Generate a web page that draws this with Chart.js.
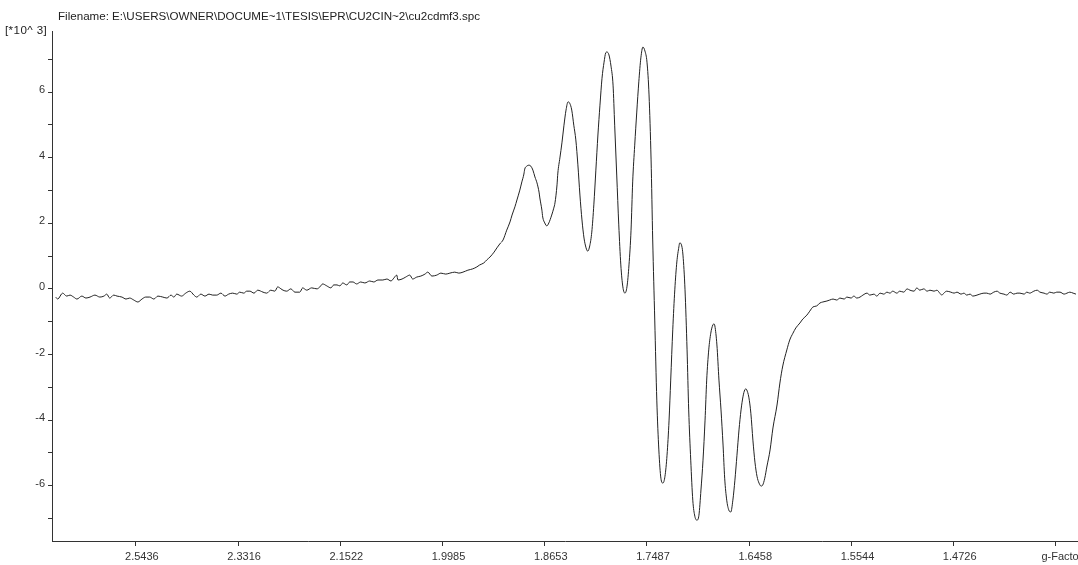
<!DOCTYPE html>
<html lang="en">
<head>
    <meta charset="UTF-8">
    <title>cu2cdmf3.spc</title>
    <script src="https://cdn.jsdelivr.net/npm/chart.js"></script>
    <style>
        body { margin: 0; background: #fff; }
        #wrap { position: relative; width: 1078px; height: 565px; overflow: hidden; }
        .txt { position: absolute; font: 11.6px "Liberation Sans", Arial, sans-serif; color: #222; white-space: nowrap; }
    </style>
</head>

<body>
    <div id="wrap">
        <canvas id="eprChart"></canvas>
        <div class="txt" style="left:58px; top:9px;">Filename: E:\USERS\OWNER\DOCUME~1\TESIS\EPR\CU2CIN~2\cu2cdmf3.spc</div>
        <div class="txt" style="left:5px; top:23px; letter-spacing:0.4px;">[*10^ 3]</div>
    </div>

    <script>
        const field = [
            2554, 2559, 2571, 2581, 2589, 2598, 2606, 2618, 2628, 2638, 2650, 2662, 2672, 2679, 2686, 2696,
            2704, 2716, 2726, 2735, 2745, 2755, 2765, 2774, 2784, 2794, 2804, 2816, 2826, 2836, 2843, 2850,
            2862, 2872, 2882, 2892, 2899, 2909, 2919, 2929, 2938, 2948, 2958, 2968, 2977, 2987, 2997, 3004,
            3014, 3021, 3029, 3039, 3048, 3061, 3070, 3080, 3090, 3097, 3105, 3110, 3119, 3129, 3139, 3151,
            3158, 3168, 3180, 3193, 3200, 3207, 3217, 3227, 3234, 3242, 3249, 3256, 3266, 3273, 3281, 3290,
            3300, 3310, 3322, 3332, 3342, 3354, 3364, 3374, 3381, 3388, 3391, 3401, 3410, 3420, 3427, 3437,
            3447, 3457, 3464, 3474, 3486, 3496, 3508, 3518, 3530, 3540, 3550, 3562, 3574, 3584, 3591, 3601,
            3608, 3616, 3626, 3633, 3640, 3648, 3657, 3665, 3670, 3677, 3682, 3689, 3694, 3699, 3701, 3706,
            3711, 3716, 3721, 3726, 3731, 3736, 3738, 3743, 3745, 3750, 3755, 3760, 3767, 3772, 3775, 3780,
            3782, 3787, 3792, 3797, 3802, 3807, 3811, 3816, 3821, 3826, 3831, 3836, 3841, 3846, 3851, 3855,
            3860, 3865, 3870, 3875, 3880, 3885, 3890, 3895, 3899, 3902, 3907, 3912, 3917, 3921, 3926, 3931,
            3936, 3941, 3946, 3951, 3956, 3961, 3965, 3970, 3975, 3980, 3985, 3990, 3995, 4000, 4005, 4010,
            4014, 4019, 4024, 4029, 4034, 4039, 4044, 4049, 4054, 4058, 4063, 4068, 4073, 4078, 4080, 4085,
            4088, 4093, 4098, 4102, 4107, 4112, 4117, 4122, 4127, 4132, 4137, 4142, 4146, 4151, 4156, 4161,
            4164, 4166, 4171, 4176, 4181, 4186, 4190, 4195, 4200, 4205, 4210, 4215, 4220, 4225, 4230, 4235,
            4239, 4242, 4244, 4249, 4254, 4259, 4264, 4269, 4274, 4279, 4283, 4288, 4293, 4301, 4308, 4318,
            4325, 4332, 4342, 4349, 4357, 4364, 4374, 4381, 4391, 4398, 4406, 4415, 4423, 4430, 4440, 4447,
            4455, 4464, 4472, 4482, 4489, 4499, 4506, 4513, 4521, 4528, 4538, 4545, 4555, 4562, 4570, 4579,
            4587, 4594, 4601, 4611, 4618, 4628, 4636, 4643, 4653, 4660, 4667, 4677, 4685, 4692, 4702, 4709,
            4716, 4721, 4726, 4733, 4743, 4751, 4758, 4768, 4775, 4782, 4790, 4797, 4807, 4814, 4824, 4831,
            4839, 4848, 4856, 4863, 4873, 4880, 4888, 4897, 4905, 4912, 4922, 4929, 4936, 4946, 4954, 4961,
            4971, 4978, 4985, 4995, 5002, 5010, 5020, 5027, 5034, 5042, 5049
        ];
        const signal = [
            -0.25, -0.31, -0.13, -0.22, -0.19, -0.25, -0.31, -0.22, -0.28, -0.25, -0.19, -0.25, -0.22, -0.16, -0.28, -0.19,
            -0.22, -0.25, -0.31, -0.28, -0.34, -0.40, -0.31, -0.25, -0.25, -0.31, -0.22, -0.25, -0.28, -0.19, -0.25, -0.16,
            -0.22, -0.13, -0.07, -0.19, -0.25, -0.16, -0.22, -0.16, -0.19, -0.19, -0.13, -0.22, -0.16, -0.13, -0.16, -0.10,
            -0.13, -0.07, -0.07, -0.13, -0.04, -0.10, -0.13, -0.04, -0.07, 0.06, 0.00, -0.04, -0.07, 0.00, -0.10, -0.10,
            0.03, -0.04, 0.03, 0.00, 0.06, 0.15, 0.09, 0.03, 0.12, 0.12, 0.09, 0.18, 0.12, 0.21, 0.21, 0.15,
            0.21, 0.18, 0.24, 0.21, 0.27, 0.27, 0.30, 0.24, 0.33, 0.42, 0.27, 0.30, 0.36, 0.42, 0.30, 0.36,
            0.39, 0.45, 0.51, 0.39, 0.42, 0.48, 0.45, 0.48, 0.51, 0.48, 0.51, 0.57, 0.61, 0.67, 0.73, 0.79,
            0.88, 0.97, 1.12, 1.25, 1.37, 1.49, 1.79, 2.04, 2.25, 2.50, 2.71, 3.01, 3.26, 3.50, 3.65, 3.74,
            3.77, 3.74, 3.62, 3.41, 3.23, 2.95, 2.77, 2.40, 2.19, 2.01, 1.92, 2.01, 2.25, 2.46, 2.62, 3.17,
            3.53, 3.99, 4.45, 4.99, 5.45, 5.70, 5.66, 5.45, 4.99, 4.54, 3.78, 2.86, 2.10, 1.55, 1.25, 1.15,
            1.31, 1.73, 2.56, 3.62, 4.69, 5.60, 6.42, 6.91, 7.19, 7.22, 7.13, 6.79, 6.21, 4.99, 3.47, 1.95,
            0.73, 0.06, -0.13, 0.06, 0.73, 1.79, 3.26, 4.38, 5.39, 6.31, 7.04, 7.37, 7.25, 6.91, 5.91, 3.93,
            1.49, -0.95, -3.39, -4.91, -5.77, -5.92, -5.71, -5.07, -4.00, -2.78, -1.25, -0.03, 0.82, 1.28, 1.40, 1.31,
            1.03, -0.03, -1.86, -3.69, -5.22, -6.44, -6.93, -7.05, -6.90, -6.13, -5.22, -4.00, -2.78, -1.86, -1.35, -1.10,
            -1.07, -1.13, -1.71, -2.78, -3.69, -4.76, -5.77, -6.44, -6.74, -6.80, -6.44, -5.83, -5.07, -4.30, -3.69, -3.27,
            -3.08, -3.05, -3.08, -3.30, -3.79, -4.61, -5.28, -5.71, -5.92, -6.01, -5.98, -5.77, -5.43, -4.91, -4.24, -3.54,
            -2.87, -2.35, -1.86, -1.56, -1.35, -1.19, -1.04, -0.92, -0.80, -0.68, -0.55, -0.52, -0.43, -0.40, -0.37, -0.34,
            -0.31, -0.34, -0.28, -0.31, -0.25, -0.28, -0.22, -0.28, -0.25, -0.19, -0.13, -0.19, -0.16, -0.22, -0.13, -0.16,
            -0.10, -0.13, -0.07, -0.13, -0.07, -0.10, 0.00, -0.04, -0.07, 0.03, -0.04, 0.00, -0.07, -0.04, -0.07, -0.04,
            -0.13, -0.19, -0.13, -0.07, -0.10, -0.13, -0.10, -0.16, -0.13, -0.19, -0.16, -0.22, -0.19, -0.16, -0.13, -0.13,
            -0.16, -0.10, -0.07, -0.13, -0.16, -0.19, -0.10, -0.16, -0.13, -0.13, -0.16, -0.10, -0.13, -0.07, -0.04, -0.10,
            -0.13, -0.16, -0.10, -0.13, -0.10, -0.10, -0.16, -0.13, -0.10, -0.13, -0.16
        ];

        // ticks del eje x: campo en G, rotulados con el factor g
        const fieldTicks = [2750, 3000, 3250, 3500, 3750, 4000, 4250, 4500, 4750, 5000];
        const gLabels = ['2.5436', '2.3316', '2.1522', '1.9985', '1.8653', '1.7487', '1.6458', '1.5544', '1.4726', 'g-Factor'];
        const yTicks = [-7, -6, -5, -4, -3, -2, -1, 0, 1, 2, 3, 4, 5, 6, 7];

        const points = field.map((b, i) => ({ x: b, y: signal[i] }));
        const axisColor = '#333';
        const tickFont = { family: '"Liberation Sans", Arial, sans-serif', size: 11 };

        const ctx = document.getElementById('eprChart').getContext('2d');
        const eprChart = new Chart(ctx, {
            type: 'line',
            data: {
                datasets: [{
                    data: points,
                    borderColor: '#222',
                    borderWidth: 1,
                    pointRadius: 0,
                    cubicInterpolationMode: 'monotone',
                    fill: false,
                }]
            },
            options: {
                responsive: true,
                maintainAspectRatio: false,
                animation: false,
                events: [],
                layout: { padding: { top: 31, right: 0, left: 0, bottom: 0 } },
                plugins: {
                    legend: { display: false },
                    tooltip: { enabled: false },
                },
                scales: {
                    x: {
                        type: 'linear',
                        min: 2545,
                        max: 5054,
                        afterBuildTicks: scale => { scale.ticks = fieldTicks.map(v => ({ value: v })); },
                        afterFit: scale => {
                            scale.height = 24;
                            scale.paddingLeft = 0;
                            scale.paddingRight = 0;
                        },
                        border: { color: axisColor, width: 1 },
                        grid: { drawOnChartArea: false, tickLength: 5, color: axisColor },
                        ticks: {
                            autoSkip: false,
                            maxRotation: 0,
                            padding: 4,
                            labelOffset: 6,
                            color: '#333',
                            font: tickFont,
                            callback: (value, index) => gLabels[index],
                        },
                    },
                    y: {
                        min: -7.685,
                        max: 7.86,
                        afterBuildTicks: scale => { scale.ticks = yTicks.map(v => ({ value: v })); },
                        afterFit: scale => { scale.width = 52; },
                        border: { color: axisColor, width: 1 },
                        grid: { drawOnChartArea: false, tickLength: 4, color: axisColor },
                        ticks: {
                            padding: 3,
                            labelOffset: -2,
                            color: '#333',
                            font: tickFont,
                            callback: value => (value % 2 === 0 ? String(value) : ''),
                        },
                    },
                },
            },
        });
    </script>
</body>
</html>
